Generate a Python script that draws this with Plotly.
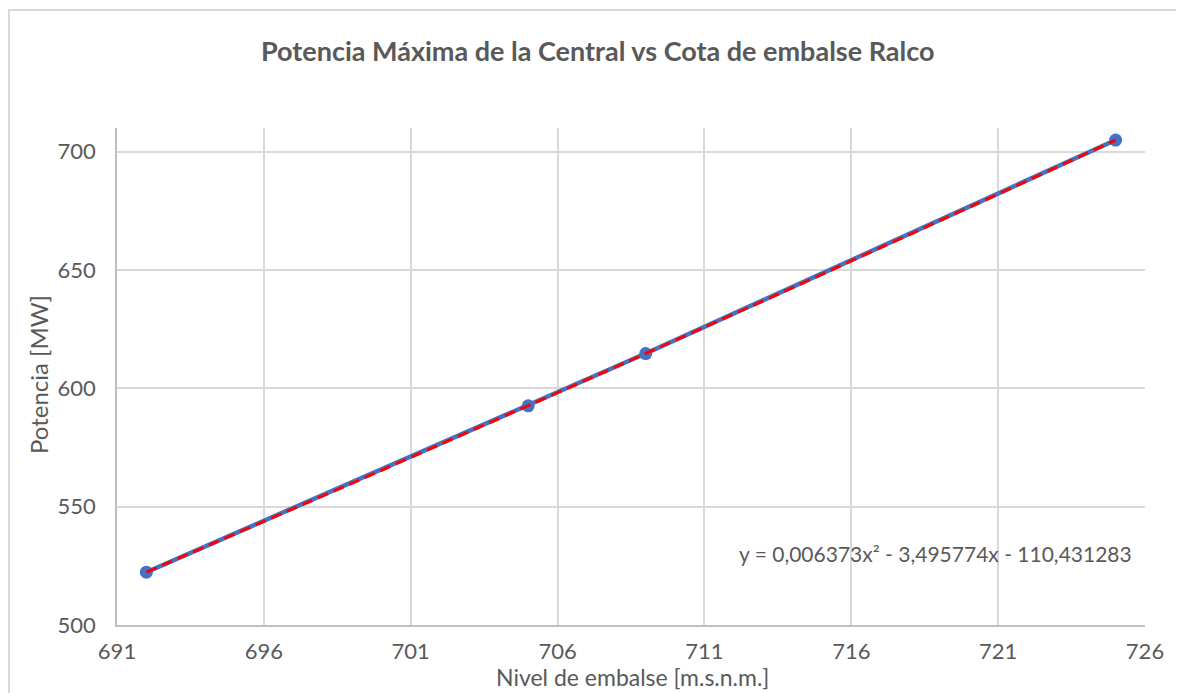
import numpy as np
import plotly.graph_objects as go

nivel = [692, 705, 709, 725]
potencia = [522.3, 592.6, 614.7, 704.9]
x_ticks = [691, 696, 701, 706, 711, 716, 721, 726]
y_ticks = [500, 550, 600, 650, 700]
titulo = "Potencia Máxima de la Central vs Cota de embalse Ralco"
x_titulo = "Nivel de embalse [m.s.n.m.]"
y_titulo = "Potencia [MW]"
ecuacion = "y = 0,006373x² - 3,495774x - 110,431283"

W, H = 1184, 693
OFF = 8  # page body margin
L, R, T, B = 117 - OFF, 1145 - OFF, 128 - OFF, 625 - OFF

coef = np.polyfit(nivel, potencia, 2)
xt = np.linspace(min(nivel), max(nivel), 200)
yt = np.polyval(coef, xt)

def px(x):
    return (x - OFF - L) / (R - L)

def py(y):
    return (B - (y - OFF)) / (B - T)

GRAY = "#595959"
FONT = "Lato"

fig = go.Figure()
fig.add_trace(go.Scatter(x=nivel, y=potencia, mode="lines+markers",
                         line=dict(color="#4472C4", width=4.5),
                         marker=dict(color="#4472C4", size=13),
                         showlegend=False))
fig.add_trace(go.Scatter(x=xt, y=yt, mode="lines",
                         line=dict(color="#FF0000", width=3, dash="11px,6px"),
                         showlegend=False))

fig.update_layout(
    width=W, height=H,
    margin=dict(l=L, r=W - R, t=T, b=H - B),
    paper_bgcolor="white", plot_bgcolor="white",
    font=dict(family=FONT, color=GRAY, size=17),
    xaxis=dict(range=[691, 726], tickvals=x_ticks, showgrid=True,
               gridcolor="#d9d9d9", gridwidth=1.5, showline=True,
               linecolor="#bfbfbf", linewidth=1.5, zeroline=False,
               ticks="", tickfont=dict(size=22, color=GRAY, family=FONT),
               ticklabelstandoff=6),
    yaxis=dict(range=[500, 710], tickvals=y_ticks, showgrid=True,
               gridcolor="#d9d9d9", gridwidth=1.5, showline=True,
               linecolor="#bfbfbf", linewidth=1.5, zeroline=False,
               ticks="", tickfont=dict(size=22, color=GRAY, family=FONT),
               ticklabelstandoff=15),
    shapes=[dict(type="rect", xref="paper", yref="paper",
                 x0=px(9), x1=px(1250), y0=py(10), y1=py(760),
                 line=dict(color="#d9d9d9", width=2), fillcolor="rgba(0,0,0,0)",
                 layer="below")],
    annotations=[
        dict(text="<b>" + titulo + "</b>", xref="paper", yref="paper",
             x=px(598), y=py(51), showarrow=False, xanchor="center", yanchor="middle",
             font=dict(size=27, color=GRAY, family=FONT)),
        dict(text=x_titulo, xref="paper", yref="paper",
             x=px(632), y=py(677), showarrow=False, xanchor="center", yanchor="middle",
             font=dict(size=23, color=GRAY, family=FONT)),
        dict(text=y_titulo, xref="paper", yref="paper", textangle=-90,
             x=px(38), y=py(375), showarrow=False, xanchor="center", yanchor="middle",
             font=dict(size=24, color=GRAY, family=FONT)),
        dict(text=ecuacion, xref="paper", yref="paper",
             x=px(1134), y=py(553), showarrow=False, xanchor="right", yanchor="middle",
             font=dict(size=21, color=GRAY, family=FONT)),
    ],
)

fig.write_html("out.html")
